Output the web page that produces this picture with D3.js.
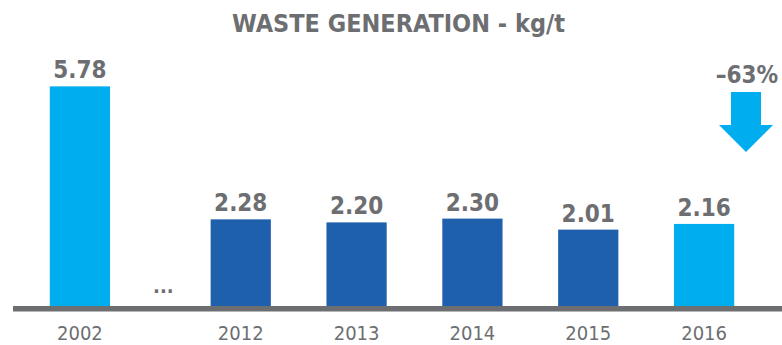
<!DOCTYPE html>
<html>
<head>
<meta charset="utf-8">
<script src="https://cdn.jsdelivr.net/npm/d3@7"></script>
<style>
  html, body { margin: 0; padding: 0; background: #fff; }
  svg { display: block; }
  text { font-family: "DejaVu Sans Condensed", "DejaVu Sans", sans-serif; font-stretch: condensed; }
</style>
</head>
<body>
<svg id="chart" width="782" height="345"></svg>
<script>
// Waste generation per tonne of product, kg/t
const years = ["2002", "2012", "2013", "2014", "2015", "2016"];
const values = [5.78, 2.28, 2.20, 2.30, 2.01, 2.16];
const highlight = [true, false, false, false, false, true]; // baseline and latest year
const title = "WASTE GENERATION - kg/t";

const W = 782, H = 345;
const light = "#00aeef", dark = "#1f60ad", grey = "#6d6e71";
const svg = d3.select("#chart");

const baseY = 306;
const y = d3.scaleLinear().domain([0, 6]).range([baseY, 78]);

// band per year; years after the break are shifted right to leave room for the "..." marker
const x = d3.scaleBand().domain(years).range([22, 717]).paddingInner(0.48).paddingOuter(0.24);
const breakGap = 45;
const xPos = d => x(d) + (d === years[0] ? 0 : breakGap);

// title, fitted to its width
const t = svg.append("text")
  .attr("x", 398.5).attr("y", 32)
  .attr("text-anchor", "middle")
  .attr("font-weight", "bold")
  .attr("fill", grey)
  .attr("font-size", 22)
  .text(title);
const tw = t.node().getComputedTextLength();
t.attr("font-size", 22 * 333 / tw);

const rows = years.map((yr, i) => ({ yr, v: values[i], hl: highlight[i] }));

// bars
svg.selectAll("rect.bar").data(rows).join("rect")
  .attr("class", "bar")
  .attr("x", d => xPos(d.yr))
  .attr("width", x.bandwidth())
  .attr("y", d => y(d.v))
  .attr("height", d => y(0) - y(d.v))
  .attr("fill", d => d.hl ? light : dark);

// value labels
svg.selectAll("text.val").data(rows).join("text")
  .attr("class", "val")
  .attr("x", d => xPos(d.yr) + x.bandwidth() / 2)
  .attr("y", d => y(d.v) - 8)
  .attr("text-anchor", "middle")
  .attr("font-weight", "bold")
  .attr("font-size", 24)
  .attr("fill", grey)
  .text(d => d3.format(".2f")(d.v));

// baseline
svg.append("line")
  .attr("x1", 13).attr("x2", W)
  .attr("y1", y(0) + 2.8).attr("y2", y(0) + 2.8)
  .attr("stroke", grey).attr("stroke-width", 5.6);

// year labels
svg.selectAll("text.yr").data(rows).join("text")
  .attr("class", "yr")
  .attr("x", d => xPos(d.yr) + x.bandwidth() / 2)
  .attr("y", 340)
  .attr("text-anchor", "middle")
  .attr("font-size", 20)
  .attr("fill", grey)
  .text(d => d.yr);

// break marker between 2002 and 2012
const gapMid = (xPos(years[0]) + x.bandwidth() + xPos(years[1])) / 2 + 3;
svg.append("text")
  .attr("x", gapMid).attr("y", 293)
  .attr("text-anchor", "middle")
  .attr("font-weight", "bold")
  .attr("font-size", 20)
  .attr("fill", grey)
  .text("...");

// overall change from first to last year, with a down arrow
const change = (values[values.length - 1] - values[0]) / values[0];
svg.append("text")
  .attr("x", 747).attr("y", 83)
  .attr("text-anchor", "middle")
  .attr("font-weight", "bold")
  .attr("font-size", 24)
  .attr("fill", grey)
  .text("\u2013" + Math.round(Math.abs(change) * 100) + "%");

svg.append("path")
  .attr("d", "M731,92 H761 V125 H773 L746,152 L719,125 H731 Z")
  .attr("fill", light);
</script>
</body>
</html>
